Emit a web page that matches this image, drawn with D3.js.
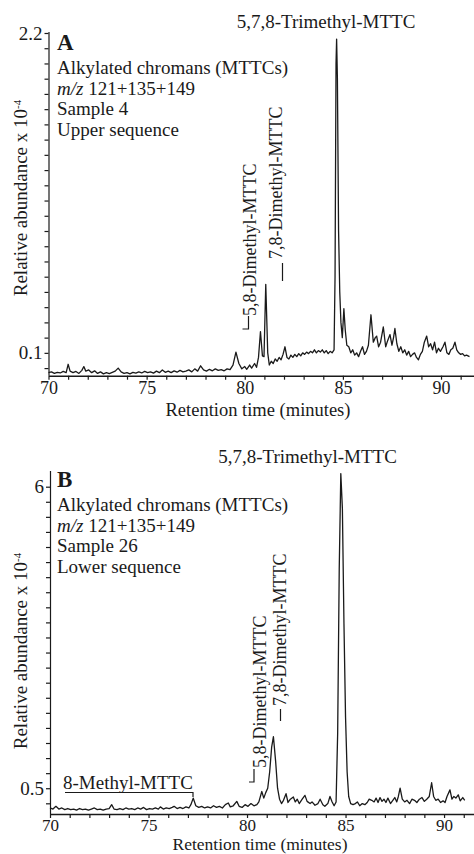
<!DOCTYPE html>
<html><head><meta charset="utf-8">
<script src="https://cdn.jsdelivr.net/npm/d3@7"></script>
<style>
html,body{margin:0;padding:0;background:#fff;}
svg text{font-family:"Liberation Serif","Times New Roman",serif;fill:#1a1a1a;}
</style></head>
<body>
<svg id="c" width="474" height="854"></svg>
<script>
// ---------- DATA ----------
const topTime = [70.0,70.15,70.3,70.45,70.6,70.75,70.9,71.0,71.1,71.25,71.4,71.55,71.7,71.8,71.9,72.05,72.2,72.35,72.5,72.65,72.8,72.95,73.1,73.25,73.4,73.55,73.7,73.85,74.0,74.15,74.3,74.45,74.6,74.75,74.9,75.05,75.2,75.35,75.5,75.65,75.8,75.95,76.1,76.25,76.4,76.55,76.7,76.85,77.0,77.15,77.3,77.45,77.6,77.75,77.9,78.05,78.2,78.35,78.5,78.65,78.8,78.95,79.1,79.25,79.4,79.55,79.7,79.85,80.0,80.1,80.25,80.35,80.5,80.6,80.7,80.8,80.9,80.98,81.07,81.17,81.25,81.35,81.45,81.55,81.65,81.75,81.85,81.95,82.05,82.15,82.25,82.35,82.45,82.55,82.65,82.75,82.85,82.95,83.05,83.15,83.25,83.35,83.45,83.55,83.65,83.75,83.85,83.95,84.05,84.15,84.25,84.35,84.45,84.55,84.6,84.65,84.68,84.72,84.78,84.84,84.9,84.97,85.05,85.12,85.2,85.3,85.4,85.5,85.6,85.7,85.8,85.9,86.0,86.1,86.2,86.3,86.43,86.55,86.65,86.72,86.82,86.92,87.06,87.18,87.28,87.4,87.5,87.58,87.65,87.75,87.85,87.95,88.05,88.15,88.25,88.35,88.45,88.55,88.65,88.75,88.85,88.95,89.05,89.15,89.27,89.37,89.47,89.57,89.67,89.77,89.87,89.97,90.1,90.2,90.3,90.4,90.5,90.6,90.71,90.8,90.9,91.0,91.1,91.2,91.3,91.45];
const topAbund = [-0.03,-0.025,-0.035,-0.028,-0.032,-0.022,-0.03,0.025,-0.02,-0.03,-0.022,-0.035,-0.015,0.01,-0.02,-0.012,-0.03,-0.018,-0.035,-0.025,-0.038,-0.03,-0.036,-0.028,-0.02,0.0,-0.025,-0.035,-0.03,-0.038,-0.028,-0.033,-0.025,-0.032,-0.022,-0.03,-0.025,-0.033,-0.02,-0.03,-0.012,-0.028,-0.02,-0.03,-0.018,-0.027,-0.015,-0.025,-0.02,-0.012,-0.025,-0.005,-0.02,0.015,-0.012,-0.02,-0.008,-0.018,-0.005,-0.015,-0.01,-0.018,-0.005,-0.01,0.02,0.105,0.03,-0.005,0.01,-0.008,0.02,0.0,0.03,0.005,0.07,0.24,0.08,0.075,0.55,0.1,0.02,0.045,0.03,0.06,0.045,0.07,0.055,0.09,0.14,0.07,0.06,0.085,0.07,0.09,0.075,0.095,0.08,0.1,0.09,0.105,0.095,0.11,0.1,0.12,0.1,0.115,0.105,0.12,0.1,0.115,0.095,0.11,0.1,0.12,0.6,2.0,2.16,1.9,0.9,0.5,0.3,0.2,0.39,0.25,0.15,0.14,0.1,0.12,0.085,0.1,0.075,0.11,0.14,0.09,0.11,0.15,0.35,0.17,0.2,0.21,0.14,0.17,0.27,0.14,0.18,0.22,0.15,0.2,0.26,0.16,0.11,0.14,0.1,0.12,0.085,0.11,0.075,0.09,0.1,0.07,0.055,0.09,0.11,0.17,0.21,0.14,0.16,0.12,0.17,0.1,0.13,0.11,0.14,0.17,0.1,0.09,0.12,0.13,0.17,0.12,0.1,0.09,0.095,0.08,0.085,0.075];

const botTime = [70.0,70.15,70.3,70.45,70.6,70.75,70.9,71.05,71.2,71.35,71.5,71.65,71.8,71.95,72.1,72.25,72.4,72.55,72.7,72.85,73.0,73.13,73.25,73.4,73.55,73.7,73.85,74.0,74.15,74.3,74.45,74.6,74.75,74.9,75.05,75.2,75.35,75.5,75.6,75.75,75.9,76.05,76.2,76.3,76.45,76.6,76.75,76.9,77.05,77.15,77.27,77.4,77.55,77.7,77.85,78.0,78.15,78.3,78.45,78.6,78.75,78.9,79.05,79.15,79.3,79.48,79.6,79.75,79.9,80.05,80.2,80.35,80.5,80.6,80.75,80.85,80.95,81.05,81.15,81.25,81.34,81.45,81.55,81.65,81.75,81.85,81.98,82.08,82.2,82.35,82.45,82.55,82.65,82.8,82.94,83.05,83.2,83.3,83.45,83.6,83.71,83.85,83.95,84.1,84.21,84.32,84.42,84.52,84.6,84.68,84.76,84.84,84.92,85.0,85.08,85.16,85.26,85.38,85.5,85.6,85.72,85.85,85.98,86.1,86.2,86.33,86.45,86.55,86.65,86.75,86.85,86.95,87.05,87.15,87.28,87.4,87.5,87.6,87.68,87.77,87.88,88.0,88.12,88.25,88.37,88.5,88.62,88.75,88.88,89.0,89.12,89.25,89.37,89.47,89.58,89.7,89.82,89.95,90.05,90.15,90.3,90.4,90.5,90.6,90.72,90.82,90.95,91.05];
const botAbund = [0.14,0.12,0.17,0.12,0.14,0.11,0.13,0.11,0.12,0.1,0.13,0.11,0.12,0.1,0.12,0.14,0.11,0.12,0.1,0.12,0.13,0.2,0.12,0.11,0.13,0.11,0.14,0.12,0.13,0.11,0.14,0.12,0.15,0.11,0.13,0.12,0.14,0.12,0.16,0.12,0.14,0.13,0.15,0.17,0.13,0.15,0.13,0.16,0.14,0.2,0.32,0.18,0.15,0.17,0.14,0.16,0.14,0.18,0.15,0.17,0.14,0.2,0.23,0.16,0.18,0.26,0.17,0.15,0.2,0.17,0.22,0.18,0.2,0.25,0.44,0.32,0.42,0.5,0.8,1.25,1.44,1.0,0.5,0.3,0.22,0.28,0.4,0.24,0.3,0.34,0.25,0.3,0.22,0.3,0.37,0.26,0.22,0.25,0.19,0.22,0.3,0.2,0.17,0.22,0.35,0.25,0.18,0.25,1.5,4.5,6.24,5.6,3.5,1.8,0.8,0.35,0.22,0.2,0.22,0.25,0.18,0.22,0.2,0.24,0.3,0.28,0.25,0.32,0.24,0.33,0.26,0.3,0.24,0.32,0.22,0.28,0.33,0.25,0.35,0.5,0.3,0.25,0.28,0.22,0.3,0.28,0.24,0.3,0.33,0.26,0.3,0.35,0.6,0.35,0.28,0.3,0.24,0.27,0.24,0.35,0.47,0.3,0.35,0.32,0.38,0.27,0.33,0.28];

const xTickValues = [70,71,72,73,74,75,76,77,78,79,80,81,82,83,84,85,86,87,88,89,90,91];
const xTickLabels = [70,75,80,85,90];
const topYLabels = [0.1, 2.2];
const botYLabels = [0.5, 6];
const topInfo = ["Alkylated chromans (MTTCs)", "m/z|121+135+149", "Sample 4", "Upper sequence"];
const botInfo = ["Alkylated chromans (MTTCs)", "m/z|121+135+149", "Sample 26", "Lower sequence"];
const compoundMain = "5,7,8-Trimethyl-MTTC";
const compound58 = "5,8-Dimethyl-MTTC";
const compound78 = "7,8-Dimethyl-MTTC";
const compound8 = "8-Methyl-MTTC";

// ---------- DRAW ----------
const svg = d3.select("#c");
const ink = "#1a1a1a";
const FS = 19;

function panel(cfg){
  const g = svg.append("g");
  const x = d3.scaleLinear().domain(cfg.xDomain).range(cfg.xRange);
  const y = d3.scaleLinear().domain(cfg.yDomain).range(cfg.yRange);
  const [lo, hi] = cfg.yLabels;
  const n = cfg.yIntervals, step = (hi - lo)/n;
  const yTicks = d3.range(-1, n+1).map(i => lo + i*step).filter(v => v >= cfg.yDomain[0]);
  const yAxis = d3.axisLeft(y).tickValues(yTicks).tickSize(4).tickSizeOuter(0).tickPadding(2)
      .tickFormat(v => (Math.abs(v-lo)<1e-9 || Math.abs(v-hi)<1e-9) ? String(v) : "");
  const ya = g.append("g").attr("transform", `translate(${cfg.xRange[0]},0)`).call(yAxis);
  ya.select(".domain").attr("d", `M0.5,${cfg.yRange[0]}V${cfg.yTop}`);
  const xAxis = d3.axisBottom(x).tickValues(xTickValues).tickSize(4).tickSizeOuter(0).tickPadding(cfg.xPad)
      .tickFormat(v => xTickLabels.includes(v) ? String(v) : "");
  const xa = g.append("g").attr("transform", `translate(0,${cfg.yRange[0]})`).call(xAxis);
  [ya, xa].forEach(a => {
    a.selectAll("text").style("font-size", FS+"px").attr("fill", ink);
    a.selectAll("line,path").attr("stroke", ink).attr("stroke-width", 1.2);
  });
  xa.selectAll("text").style("font-size", cfg.xFS+"px");
  xa.select(".domain").attr("stroke-width", 1.6);
  const pts = cfg.t.map((t,i)=>[t, cfg.v[i]]);
  g.append("path").datum(pts)
    .attr("d", d3.line().x(d=>x(d[0])).y(d=>y(d[1])))
    .attr("fill","none").attr("stroke", ink).attr("stroke-width", 1.3).attr("stroke-linejoin","round");
  g.append("text").attr("x", cfg.xTitle[0]).attr("y", cfg.xTitle[1]).attr("text-anchor","middle")
    .style("font-size", cfg.xTitleFS+"px").text("Retention time (minutes)");
  const yt = g.append("text").attr("transform", `translate(${cfg.yTitle[0]},${cfg.yTitle[1]}) rotate(-90)`)
    .attr("text-anchor","middle").style("font-size", FS+"px");
  yt.append("tspan").text("Relative abundance x 10");
  yt.append("tspan").attr("dy","-0.55em").style("font-size","11px").text("-4");
  g.append("text").attr("x", 57).attr("y", cfg.letterY).style("font-size","23px").style("font-weight","bold").text(cfg.letter);
  cfg.info.forEach((s,i) => {
    const t = g.append("text").attr("x", 57).attr("y", cfg.infoY[i]).style("font-size", FS+"px");
    if (s.includes("|")) {
      const [a,b] = s.split("|");
      t.append("tspan").style("font-style","italic").text(a);
      t.append("tspan").text(" " + b);
    } else t.text(s);
  });
  g.append("text").attr("x", cfg.main[0]).attr("y", cfg.main[1]).attr("text-anchor","middle")
    .style("font-size", FS+"px").text(compoundMain);
  return {g, x, y};
}

const A = panel({
  xDomain:[70, 91.68], xRange:[48.5, 474], yDomain:[-0.05, 2.2], yRange:[375.7, 33], yTop:32,
  yLabels: topYLabels, yIntervals: 21, t: topTime, v: topAbund, xPad: 1.5, xFS: 18, xTitleFS: 18.5,
  xTitle:[258, 415.5], yTitle:[27, 198], letter:"A", letterY: 50,
  info: topInfo, infoY:[74, 94.5, 115, 135.5], main:[326, 28]
});
const B = panel({
  xDomain:[70, 91.52], xRange:[50, 474], yDomain:[0.03, 6], yRange:[814, 486.7], yTop:471,
  yLabels: botYLabels, yIntervals: 20, t: botTime, v: botAbund, xPad: 0.5, xFS: 17, xTitleFS: 17.5,
  xTitle:[260, 850], yTitle:[27, 651], letter:"B", letterY: 487,
  info: botInfo, infoY:[511, 531.5, 552, 573], main:[307.5, 463]
});

function vlabel(g, s, x0, y0){
  g.append("text").attr("transform", `translate(${x0},${y0}) rotate(-90)`)
    .style("font-size", "18px").text(s);
}
function mark(g, d){
  g.append("path").attr("d", d).attr("fill","none").attr("stroke", ink).attr("stroke-width", 1.2);
}
// Panel A rotated labels
vlabel(A.g, compound58, 256, 316);
mark(A.g, "M248.5,316V329H242.5");
vlabel(A.g, compound78, 282, 259);
mark(A.g, "M282.5,263V281");
// Panel B rotated labels
vlabel(B.g, compound58, 266, 768);
mark(B.g, "M254,769V782H249");
vlabel(B.g, compound78, 286, 706);
mark(B.g, "M280.5,709V721");
// 8-Methyl label with underline bracket
B.g.append("text").attr("x", 63).attr("y", 789).style("font-size", FS+"px").text(compound8);
mark(B.g, "M65,792.5H193V797");
</script>
</body></html>
